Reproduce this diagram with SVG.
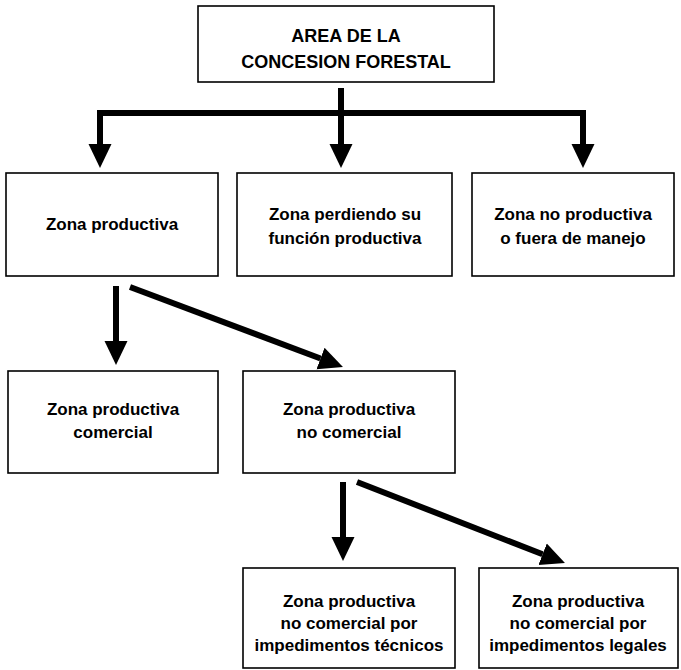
<svg xmlns="http://www.w3.org/2000/svg" width="681" height="670" viewBox="0 0 681 670">
  <style>
    .box { fill: #fff; stroke: #000; stroke-width: 1.6; }
    .lbl { font-family: "Liberation Sans", Arial, sans-serif; font-weight: bold; font-size: 17px; fill: #000; text-anchor: middle; }
    .title { font-size: 18px; }
    .wire { fill: none; stroke: #000; stroke-width: 6; }
  </style>
  <defs>
    <marker id="head" markerUnits="userSpaceOnUse" markerWidth="26" markerHeight="26" viewBox="0 0 26 26" refX="0" refY="13" orient="auto">
      <path d="M0,1.5 L24,13 L0,24.5 Z" fill="#000"/>
    </marker>
  </defs>
  <rect width="681" height="670" fill="#fff"/>

  <g id="connectors">
    <line class="wire" x1="97" y1="113" x2="586" y2="113"/>
    <line class="wire" x1="341" y1="88" x2="341" y2="144" marker-end="url(#head)"/>
    <line class="wire" x1="100" y1="110" x2="100" y2="144" marker-end="url(#head)"/>
    <line class="wire" x1="583" y1="110" x2="583" y2="144" marker-end="url(#head)"/>
    <line class="wire" x1="116" y1="286" x2="116" y2="341" marker-end="url(#head)"/>
    <line class="wire" x1="130" y1="287" x2="320.5" y2="358.5" marker-end="url(#head)"/>
    <line class="wire" x1="343" y1="482" x2="343" y2="537" marker-end="url(#head)"/>
    <line class="wire" x1="357" y1="482" x2="542.6" y2="554.3" marker-end="url(#head)"/>
  </g>

  <g id="area">
    <rect class="box" x="198" y="6" width="296" height="76"/>
    <text class="lbl title" x="346" y="42">AREA DE LA</text>
    <text class="lbl title" x="346" y="68">CONCESION FORESTAL</text>
  </g>

  <g id="zona-productiva">
    <rect class="box" x="6" y="173" width="212" height="103"/>
    <text class="lbl" x="112" y="230">Zona productiva</text>
  </g>

  <g id="zona-perdiendo">
    <rect class="box" x="237" y="173" width="215" height="103"/>
    <text class="lbl" x="345" y="220">Zona perdiendo su</text>
    <text class="lbl" x="345" y="244">función productiva</text>
  </g>

  <g id="zona-no-productiva">
    <rect class="box" x="472" y="173" width="202" height="103"/>
    <text class="lbl" x="573" y="220">Zona no productiva</text>
    <text class="lbl" x="573" y="244">o fuera de manejo</text>
  </g>

  <g id="zona-comercial">
    <rect class="box" x="8" y="371" width="210" height="102"/>
    <text class="lbl" x="113" y="415">Zona productiva</text>
    <text class="lbl" x="113" y="438">comercial</text>
  </g>

  <g id="zona-no-comercial">
    <rect class="box" x="243" y="371" width="212" height="102"/>
    <text class="lbl" x="349" y="415">Zona productiva</text>
    <text class="lbl" x="349" y="438">no comercial</text>
  </g>

  <g id="impedimentos-tecnicos">
    <rect class="box" x="243" y="568" width="212" height="100"/>
    <text class="lbl" x="349" y="607">Zona productiva</text>
    <text class="lbl" x="349" y="629">no comercial por</text>
    <text class="lbl" x="349" y="651">impedimentos técnicos</text>
  </g>

  <g id="impedimentos-legales">
    <rect class="box" x="479" y="568" width="199" height="100"/>
    <text class="lbl" x="578" y="607">Zona productiva</text>
    <text class="lbl" x="578" y="629">no comercial por</text>
    <text class="lbl" x="578" y="651">impedimentos legales</text>
  </g>
</svg>
